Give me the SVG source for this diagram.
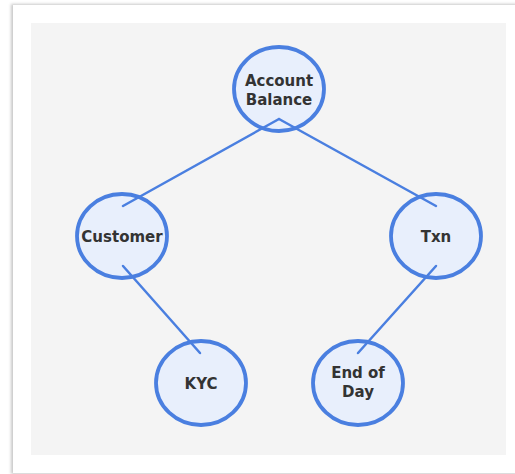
<svg xmlns="http://www.w3.org/2000/svg" width="515" height="474" viewBox="0 0 515 474">
<defs>
<filter id="sh" x="-5%" y="-5%" width="110%" height="110%"><feGaussianBlur stdDeviation="1.5"/></filter>
</defs>
<style>
.node{fill:#e8effc;stroke:#4a7fe0;stroke-width:3.8}
.lbl{font-family:"DejaVu Sans",sans-serif;font-weight:bold;font-size:15px;fill:#333;text-anchor:middle}
.edge{stroke:#4a7fe0;stroke-width:2.5;fill:none;stroke-linecap:round}
</style>
<rect x="0" y="0" width="515" height="474" fill="#ffffff"/>
<rect x="11" y="4" width="506" height="470" fill="#c8c8c8" filter="url(#sh)"/>
<rect x="13" y="5" width="502" height="468" fill="#ffffff"/>
<rect x="31" y="23" width="475" height="432" fill="#f4f4f4"/>
<g id="account-balance">
<ellipse class="node" cx="279" cy="89" rx="45" ry="42"/>
<text class="lbl" x="279" y="86">Account</text>
<text class="lbl" x="279" y="105">Balance</text>
</g>
<g id="customer">
<ellipse class="node" cx="122" cy="236" rx="45" ry="42"/>
<text class="lbl" x="122" y="242">Customer</text>
</g>
<g id="txn">
<ellipse class="node" cx="436" cy="236" rx="45" ry="42"/>
<text class="lbl" x="436" y="242">Txn</text>
</g>
<g id="kyc">
<ellipse class="node" cx="201" cy="383" rx="45" ry="42"/>
<text class="lbl" x="201" y="389">KYC</text>
</g>
<g id="end-of-day">
<ellipse class="node" cx="358" cy="383" rx="45" ry="42"/>
<text class="lbl" x="358" y="378">End of</text>
<text class="lbl" x="358" y="397">Day</text>
</g>
<g id="connectors">
<line class="edge" x1="279" y1="119" x2="123" y2="206"/>
<line class="edge" x1="279" y1="119" x2="436" y2="206"/>
<line class="edge" x1="123" y1="266" x2="200" y2="353"/>
<line class="edge" x1="436" y1="266" x2="358" y2="353"/>
</g>
</svg>
